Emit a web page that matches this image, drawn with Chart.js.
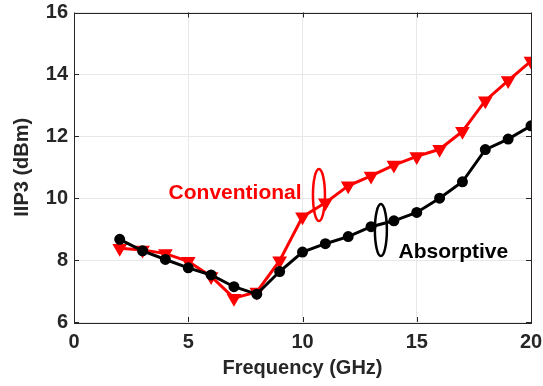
<!DOCTYPE html>
<html>
<head>
<meta charset="utf-8">
<script src="https://cdn.jsdelivr.net/npm/chart.js@4.4.0/dist/chart.umd.min.js"></script>
<style>
    html, body { margin: 0; padding: 0; background: #ffffff; }
    #wrap { width: 543px; height: 386px; }
</style>
</head>
<body>
<div id="wrap"><canvas id="iip3_chart" width="543" height="386"></canvas></div>
<script>
// Frequency points (GHz)
const frequencies = [2, 3, 4, 5, 6, 7, 8, 9, 10, 11, 12, 13, 14, 15, 16, 17, 18, 19, 20];

// IIP3 values (dBm)
const absorptiveIIP3 = [8.67, 8.30, 8.02, 7.75, 7.52, 7.14, 6.90, 7.63, 8.26, 8.53, 8.76, 9.08, 9.27, 9.54, 10.00, 10.53, 11.57, 11.91, 12.34];
const conventionalIIP3 = [8.38, 8.33, 8.21, 7.96, 7.47, 6.77, 6.97, 7.98, 9.40, 9.85, 10.40, 10.72, 11.07, 11.35, 11.58, 12.16, 13.15, 13.80, 14.43];

// Axis ticks
const xTicks = [0, 5, 10, 15, 20];
const yTicks = [6, 8, 10, 12, 14, 16];

// Labels drawn inside the plot, placed in data coordinates
const seriesNotes = [
    { text: 'Conventional', x: 7.05, y: 10.15, color: '#ff0000', ellipse: { x: 10.72, y: 10.1 } },
    { text: 'Absorptive', x: 16.6, y: 8.27, color: '#000000', ellipse: { x: 13.43, y: 8.97 } }
];

const FONT = '"Liberation Sans", Arial, sans-serif';
const TEXT_COLOR = '#262626';

function toPoints(xs, ys)
{
    return xs.map((x, i) => ({ x: x, y: ys[i] }));
}

// Draws the box, the inward tick marks and the series notes with their ellipses
const boxAndNotes = {
    id: 'boxAndNotes',
    afterDatasetsDraw(chart)
    {
        const ctx = chart.ctx;
        const area = chart.chartArea;
        const xs = chart.scales.x;
        const ys = chart.scales.y;

        ctx.save();
        ctx.strokeStyle = '#262626';
        ctx.lineWidth = 1;
        ctx.strokeRect(Math.round(area.left) + 0.5, Math.round(area.top) + 0.5,
            Math.round(area.right - area.left), Math.round(area.bottom - area.top));

        // inward ticks on all four sides
        const len = 5;
        ctx.beginPath();
        xTicks.forEach(v => {
            const px = Math.round(xs.getPixelForValue(v)) + 0.5;
            ctx.moveTo(px, area.bottom); ctx.lineTo(px, area.bottom - len);
            ctx.moveTo(px, area.top); ctx.lineTo(px, area.top + len);
        });
        yTicks.forEach(v => {
            const py = Math.round(ys.getPixelForValue(v)) + 0.5;
            ctx.moveTo(area.left, py); ctx.lineTo(area.left + len, py);
            ctx.moveTo(area.right, py); ctx.lineTo(area.right - len, py);
        });
        ctx.stroke();

        seriesNotes.forEach(note => {
            ctx.fillStyle = note.color;
            ctx.font = 'bold 21px ' + FONT;
            ctx.textAlign = 'center';
            ctx.textBaseline = 'middle';
            ctx.fillText(note.text, xs.getPixelForValue(note.x), ys.getPixelForValue(note.y));

            ctx.strokeStyle = note.color;
            ctx.lineWidth = 2.5;
            ctx.beginPath();
            ctx.ellipse(xs.getPixelForValue(note.ellipse.x), ys.getPixelForValue(note.ellipse.y), 6, 26, 0, 0, Math.PI * 2);
            ctx.stroke();
        });
        ctx.restore();
    }
};

new Chart(document.getElementById('iip3_chart').getContext('2d'),
{
    type: 'line',
    data: {
        datasets: [
            {
                label: 'Absorptive',
                data: toPoints(frequencies, absorptiveIIP3),
                borderColor: '#000000',
                backgroundColor: '#000000',
                borderWidth: 3,
                pointStyle: 'circle',
                pointRadius: 4,
                pointHoverRadius: 4,
                tension: 0
            },
            {
                label: 'Conventional',
                data: toPoints(frequencies, conventionalIIP3),
                borderColor: '#ff0000',
                backgroundColor: '#ff0000',
                borderWidth: 3,
                pointStyle: 'triangle',
                pointRotation: 180,
                pointRadius: 5.5,
                pointHoverRadius: 5.5,
                tension: 0
            }
        ]
    },
    options: {
        responsive: false,
        animation: false,
        events: [],
        layout: { padding: 0 },
        plugins: {
            legend: { display: false },
            tooltip: { enabled: false }
        },
        scales: {
            x: {
                type: 'linear',
                min: 0,
                max: 20,
                afterBuildTicks: scale => { scale.ticks = xTicks.map(v => ({ value: v })); },
                afterFit: scale => { scale.height = 64; scale.paddingRight = 12; scale.paddingLeft = 0; },
                grid: { color: '#e8e8e8', drawTicks: false },
                border: { display: false },
                ticks: { color: TEXT_COLOR, padding: 8, font: { family: FONT, size: 20, weight: 'bold' } },
                title: {
                    display: true,
                    text: 'Frequency (GHz)',
                    color: TEXT_COLOR,
                    padding: { top: 0, bottom: 6 },
                    font: { family: FONT, size: 20, weight: 'bold' }
                }
            },
            y: {
                type: 'linear',
                min: 6,
                max: 16,
                afterBuildTicks: scale => { scale.ticks = yTicks.map(v => ({ value: v })); },
                afterFit: scale => { scale.width = 74; scale.paddingTop = 12.5; scale.paddingBottom = 0; },
                grid: { color: '#e8e8e8', drawTicks: false },
                border: { display: false },
                ticks: { color: TEXT_COLOR, padding: 6, font: { family: FONT, size: 20, weight: 'bold' } },
                title: {
                    display: true,
                    text: 'IIP3 (dBm)',
                    color: TEXT_COLOR,
                    padding: { top: 10, bottom: 0 },
                    font: { family: FONT, size: 20, weight: 'bold' }
                }
            }
        }
    },
    plugins: [boxAndNotes]
});
</script>
</body>
</html>
